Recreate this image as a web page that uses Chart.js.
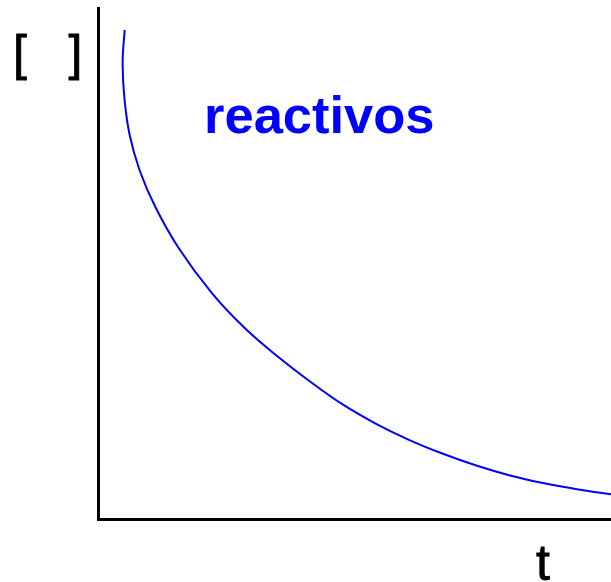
<!DOCTYPE html>
<html>
<head>
<meta charset="utf-8">
<script src="https://cdn.jsdelivr.net/npm/chart.js@4"></script>
<style>
  html, body { margin: 0; padding: 0; background: #fff; }
  #wrap { width: 611px; height: 582px; position: relative; }
</style>
</head>
<body>
<div id="wrap"><canvas id="chart"></canvas></div>
<script>
// curve (arbitrary units, t: 0..10, concentration: 0..10)
const tValues = [0.520, 0.480, 0.513, 0.614, 0.809, 1.111, 1.565, 2.216, 2.865, 3.515,
  4.133, 4.776, 5.439, 6.082, 6.725, 7.388, 8.031, 8.674, 9.337, 10];
const concValues = [9.569, 8.943, 8.256, 7.528, 6.830, 6.119, 5.313, 4.425, 3.732, 3.170,
  2.691, 2.237, 1.853, 1.540, 1.276, 1.041, 0.853, 0.705, 0.583, 0.483];

const seriesLabel = 'reactivos';
const yAxisLabel = '[   ]';
const xAxisLabel = 't';

// Draw the free text labels on the canvas
const textPlugin = {
  id: 'textLabels',
  afterDraw(chart) {
    const ctx = chart.ctx;
    ctx.save();
    ctx.textBaseline = 'alphabetic';

    ctx.fillStyle = '#000';
    ctx.strokeStyle = '#000';
    ctx.lineWidth = 0.8;
    ctx.font = '50px "Liberation Sans", Arial, sans-serif';
    ctx.textAlign = 'left';
    ctx.fillText(yAxisLabel, 13, 70);
    ctx.strokeText(yAxisLabel, 13, 70);

    ctx.textAlign = 'center';
    ctx.fillText(xAxisLabel, 543, 580);
    ctx.strokeText(xAxisLabel, 543, 580);

    ctx.fillStyle = '#0000ff';
    ctx.font = 'bold 52.5px "Liberation Sans", Arial, sans-serif';
    ctx.textAlign = 'left';
    ctx.fillText(seriesLabel, 204, 133);
    ctx.restore();
  }
};

const points = tValues.map((t, i) => ({ x: t, y: concValues[i] }));

new Chart(document.getElementById('chart'), {
  type: 'line',
  data: {
    datasets: [{
      label: seriesLabel,
      data: points,
      borderColor: '#0000ff',
      borderWidth: 2,
      pointRadius: 0,
      tension: 0.4,
      fill: false
    }]
  },
  options: {
    responsive: true,
    maintainAspectRatio: false,
    animation: false,
    layout: {
      padding: { left: 98, right: 0, top: 8, bottom: 63 }
    },
    plugins: {
      legend: { display: false },
      tooltip: { enabled: false }
    },
    scales: {
      x: {
        type: 'linear',
        min: 0,
        max: 10,
        grid: { display: false, drawTicks: false },
        ticks: { display: false },
        border: { display: true, color: '#000', width: 3 }
      },
      y: {
        type: 'linear',
        min: 0,
        max: 10,
        grid: { display: false, drawTicks: false },
        ticks: { display: false },
        border: { display: true, color: '#000', width: 3 }
      }
    }
  },
  plugins: [textPlugin]
});
</script>
</body>
</html>
